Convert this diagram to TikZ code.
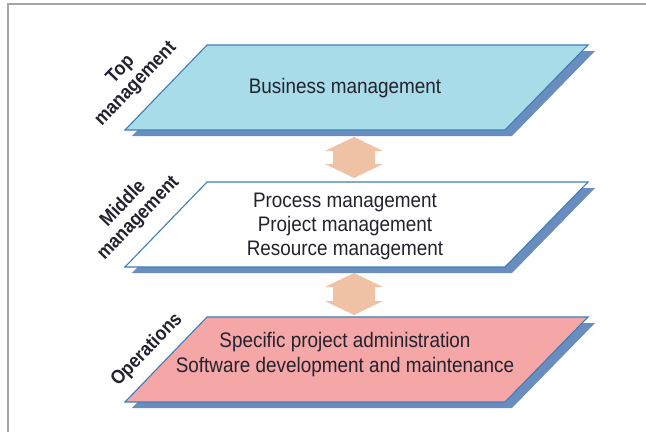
\documentclass[tikz,border=0pt]{standalone}
\usepackage{fontspec}
\setmainfont[FakeStretch=0.9]{Liberation Sans}
\usetikzlibrary{calc}
\definecolor{framegray}{HTML}{A6A6A6}
\definecolor{edgeblue}{HTML}{3E7DB6}
\definecolor{shadeblue}{HTML}{6A8DC0}
\definecolor{topfill}{HTML}{A8DCE9}
\definecolor{opsfill}{HTML}{F5A6A6}
\definecolor{linkfill}{HTML}{F0C2A5}
\definecolor{ink}{HTML}{23232F}

% one management layer: a parallelogram with a drop shadow
\newcommand\layerband[3]{% #1 name, #2 top y, #3 fill
  \coordinate (#1-top) at (354,#2);
  \coordinate (#1-bot) at (354,#2+85);
  \fill[shadeblue] (214,#2+6) -- (595,#2+6) -- (512,#2+91) -- (132,#2+91) -- cycle;
  \filldraw[layeredge, fill=#3] (207,#2) -- (588,#2) -- (505,#2+85) -- (125,#2+85) -- cycle;
}
% two-headed link between two layers
\newcommand\layerlink[2]{% #1 upper tip, #2 lower tip
  \fill[linkfill] (#1) -- ++(29,14) -- ++(-8,0) -- ($(#2)+(21,-14)$) -- ++(8,0)
    -- (#2) -- ++(-29,-14) -- ++(8,0) -- ($(#1)+(-21,14)$) -- ++(-8,0) -- cycle;
}

\begin{document}
\begin{tikzpicture}[x=1pt,y=-1pt,
  layeredge/.style={draw=edgeblue, line width=1.1pt, line join=miter},
  body/.style={font=\fontsize{21}{24}\selectfont, text=ink, align=center, inner sep=0pt},
  tier/.style={font=\bfseries\fontsize{19.5}{21}\selectfont, text=ink, align=center, rotate=46, inner sep=0pt}]
  \useasboundingbox (0,0) rectangle (646,432);

  % outer frame
  \draw[framegray, line width=1.4pt] (8,432) -- (8,4) -- (646,4);

  \layerband{top}{45}{topfill}
  \layerband{mid}{182}{white}
  \layerband{ops}{317}{opsfill}

  % links between layers
  \coordinate (l1a) at (354,137);
  \coordinate (l1b) at (354,178);
  \coordinate (l2a) at (354,273);
  \coordinate (l2b) at (354,315);
  \layerlink{l1a}{l1b}
  \layerlink{l2a}{l2b}

  % layer contents
  \node[body] (business) at (345,88.5) {Business management};
  \node[body] (middle) at (345,226) {Process management\\Project management\\Resource management};
  \node[body] (operations) at (345,355) {Specific project administration\\[1pt]Software development and maintenance};

  % tier names
  \node[tier] (toplabel) at (128.5,77) {Top\\management};
  \node[tier] (midlabel) at (131,211) {Middle\\management};
  \node[tier] (opslabel) at (147,350) {Operations};
\end{tikzpicture}
\end{document}
